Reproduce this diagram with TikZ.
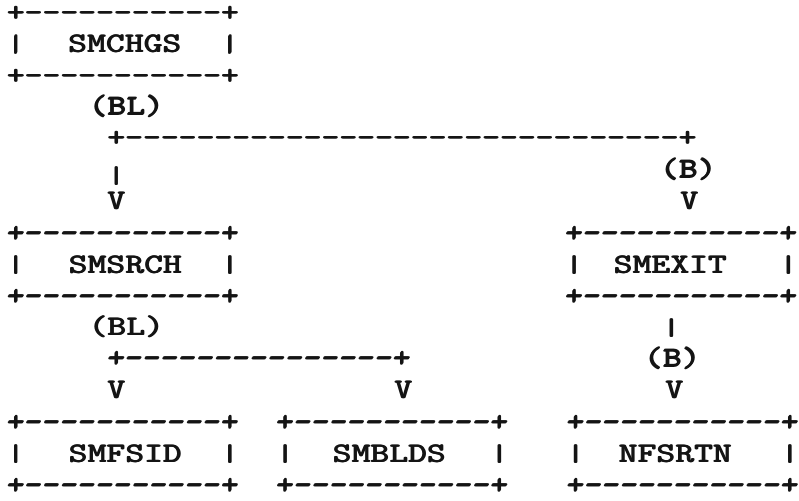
\documentclass[tikz,border=0pt]{standalone}
\usepackage{graphicx}
\usepackage{fontspec}
\definecolor{ink}{gray}{0.08}
% light typewriter-style overstrike to thicken the strokes a little
\newcommand\heavy[1]{\rlap{\kern0.6pt\raisebox{0.3pt}{#1}}#1}
\newcommand\asciibar{\scalebox{1.2}[0.85]{\heavy{|}}}
\newcommand\tx[1]{\scalebox{1.193}[1]{\heavy{#1}}}
\newcommand\lbl[1]{\scalebox{1.26}[1]{\heavy{#1}}}
\tikzset{
  tt/.style={font=\ttfamily\bfseries\fontsize{28.5}{30}\selectfont, inner sep=0pt, outer sep=0pt, anchor=base, text=ink},
  bar/.style={tt, anchor=center},
}
% #1 name, #2 box centre x, #3 label centre x, #4 label row centre y, #5 label
\newcommand\ascbox[5]{%
  \node[tt] (#1-top) at (#2, #4-31.5+8.5) {\tx{+-----------+}};
  \node[bar] (#1-l) at (#2-107.1, #4) {\asciibar};
  \node[bar] (#1-r) at (#2+107.1, #4) {\asciibar};
  \node[tt] (#1) at (#3, #4+8.5) {\lbl{#5}};
  \node[tt] (#1-bot) at (#2, #4+31.5+8.5) {\tx{+-----------+}};
}
\begin{document}
\begin{tikzpicture}[x=1pt,y=-1pt]
\useasboundingbox[fill=white] (0,0) rectangle (799,500);
% rows: centre = 13 + (n-1)*31.5
% boxes
\ascbox{smchgs}{122.6}{124.5}{44.5}{SMCHGS}
\ascbox{smsrch}{122.6}{125}{265}{SMSRCH}
\ascbox{smexit}{681}{670}{265}{SMEXIT}
\ascbox{smfsid}{122.6}{125}{454}{SMFSID}
\ascbox{smblds}{392}{389}{454}{SMBLDS}
\ascbox{nfsrtn}{682.5}{675}{454}{NFSRTN}
% SMCHGS -> SMSRCH / SMEXIT
\node[tt] (bl1) at (126,115) {\lbl{(BL)}};
\node[tt] (fork1) at (401.6,146.5) {\tx{+-------------------------------+}};
\node[bar] (down1) at (116,176) {\asciibar};
\node[tt] (b1) at (688,178) {\lbl{(B)}};
\node[tt] (v1) at (116,209.5) {\tx{V}};
\node[tt] (v2) at (689,209.5) {\tx{V}};
% SMSRCH -> SMFSID / SMBLDS
\node[tt] (bl2) at (126,335.5) {\lbl{(BL)}};
\node[tt] (fork2) at (258.8,367) {\tx{+---------------+}};
\node[tt] (v3) at (116,398.5) {\tx{V}};
\node[tt] (v4) at (403,398.5) {\tx{V}};
% SMEXIT -> NFSRTN
\node[bar] (down2) at (671,328) {\asciibar};
\node[tt] (b2) at (672,367) {\lbl{(B)}};
\node[tt] (v5) at (674,398.5) {\tx{V}};
\end{tikzpicture}
\end{document}
